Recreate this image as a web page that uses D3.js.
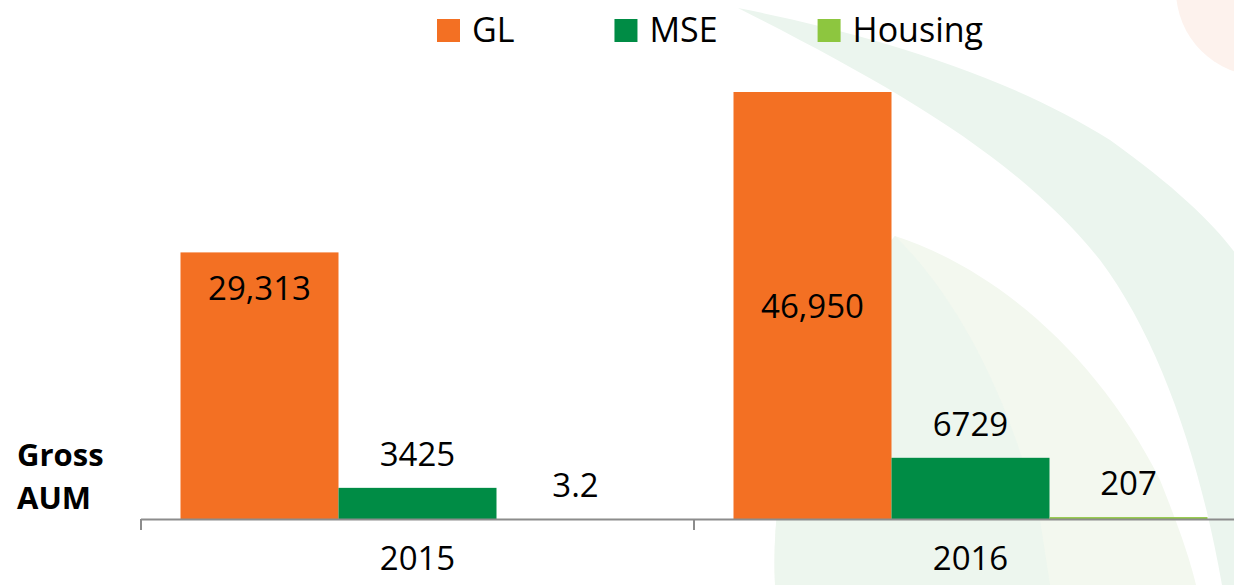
<!DOCTYPE html>
<html>
<head>
<meta charset="utf-8">
<script src="https://cdn.jsdelivr.net/npm/d3@7"></script>
<style>
  html, body { margin: 0; padding: 0; background: #fff; }
  svg { display: block; font-family: "Open Sans", "Noto Sans", sans-serif; }
</style>
</head>
<body>
<div id="chart"></div>
<script>
// data
var years = ["2015", "2016"];
var series = ["GL", "MSE", "Housing"];
var glValues = [29313, 46950];
var mseValues = [3425, 6729];
var housingValues = [3.2, 207];
var valueLabels = [["29,313", "3425", "3.2"], ["46,950", "6729", "207"]];

var colors = { GL: "#F37023", MSE: "#008C45", Housing: "#8DC63F" };

var w = 1234,
    h = 585;

var svg = d3.select("#chart").append("svg")
  .attr("width", w)
  .attr("height", h);

// faint leaf watermark in the background
var bg = svg.append("g").attr("class", "watermark");
bg.append("path")
  .attr("d", "M738,8 C850,30 1000,70 1110,140 C1180,190 1220,230 1240,260 L1240,585 L1222,585 C1200,460 1160,340 1100,260 C1020,160 900,90 738,8 Z")
  .attr("fill", "#ebf5ee");
bg.append("path")
  .attr("d", "M895,236 C1000,270 1100,360 1160,480 C1180,530 1190,560 1196,585 L775,585 C770,480 800,340 895,236 Z")
  .attr("fill", "#f3f8ef");
bg.append("path")
  .attr("d", "M895,236 C960,300 1010,400 1040,520 L1050,585 L775,585 C770,480 800,340 895,236 Z")
  .attr("fill", "#ebf5ee")
  .attr("opacity", 0.8);
bg.append("circle")
  .attr("cx", 1262)
  .attr("cy", -10)
  .attr("r", 86)
  .attr("fill", "#fdf2ed");

// scales
var x0 = d3.scaleBand()
  .domain(years)
  .range([141, 1247])
  .padding(0);

var x1 = d3.scaleBand()
  .domain(series)
  .range([0, x0.bandwidth()])
  .paddingInner(0)
  .paddingOuter(0.25);

var y = d3.scaleLinear()
  .domain([0, d3.max(glValues)])
  .range([519, 92]);

var rows = years.map(function (yr, i) {
  return [
    { year: yr, key: "GL", value: glValues[i], label: valueLabels[i][0] },
    { year: yr, key: "MSE", value: mseValues[i], label: valueLabels[i][1] },
    { year: yr, key: "Housing", value: housingValues[i], label: valueLabels[i][2] }
  ];
});

// bars
var groups = svg.selectAll("g.year")
  .data(rows)
  .enter()
  .append("g")
  .attr("class", "year")
  .attr("transform", function (d, i) { return "translate(" + x0(years[i]) + ",0)"; });

groups.selectAll("rect")
  .data(function (d) { return d; })
  .enter()
  .append("rect")
  .attr("x", function (d) { return x1(d.key); })
  .attr("y", function (d) { return y(d.value); })
  .attr("width", x1.bandwidth())
  .attr("height", function (d) { return y(0) - y(d.value); })
  .attr("fill", function (d) { return colors[d.key]; });

// value labels
groups.selectAll("text.val")
  .data(function (d) { return d; })
  .enter()
  .append("text")
  .attr("class", "val")
  .attr("x", function (d) { return x1(d.key) + x1.bandwidth() / 2; })
  .attr("y", function (d) {
    if (d.key === "GL") {
      // 2015 sits near the top of the bar, 2016 in the middle
      return d.year === "2015" ? y(d.value) + 48 : (y(d.value) + y(0)) / 2 + 12;
    }
    return y(d.value) - 22;
  })
  .attr("text-anchor", "middle")
  .attr("font-size", "33px")
  .attr("fill", "#000")
  .text(function (d) { return d.label; });

// x axis
var axis = svg.append("g")
  .attr("transform", "translate(0,519)")
  .call(d3.axisBottom(x0).tickSize(0).tickPadding(26));
axis.select(".domain")
  .attr("d", "M141,0.5H1247")
  .attr("stroke", "#8c8c8c")
  .attr("stroke-width", 2);
axis.selectAll(".tick text")
  .attr("font-size", "33px")
  .attr("font-family", "Open Sans, sans-serif")
  .attr("fill", "#000")
  .attr("dy", "0.75em");

// category boundary ticks
svg.append("g").selectAll("line")
  .data(years.concat(["end"]))
  .enter()
  .append("line")
  .attr("x1", function (d, i) { return 141 + i * x0.bandwidth(); })
  .attr("x2", function (d, i) { return 141 + i * x0.bandwidth(); })
  .attr("y1", 519)
  .attr("y2", 530)
  .attr("stroke", "#8c8c8c")
  .attr("stroke-width", 2);

// axis title
var title = svg.append("text")
  .attr("x", 17)
  .attr("font-size", "31px")
  .attr("font-weight", "bold")
  .attr("fill", "#000");
title.append("tspan").attr("x", 17).attr("y", 466).text("Gross");
title.append("tspan").attr("x", 17).attr("y", 509).text("AUM");

// legend
var legend = svg.append("g").attr("class", "legend");
var lx = 437;
series.forEach(function (s) {
  legend.append("rect")
    .attr("x", lx)
    .attr("y", 19)
    .attr("width", 23)
    .attr("height", 23)
    .attr("fill", colors[s]);
  var t = legend.append("text")
    .attr("x", lx + 35)
    .attr("y", 42)
    .attr("font-size", "34px")
    .attr("fill", "#000")
    .text(s);
  lx = lx + 35 + t.node().getComputedTextLength() + 100;
});
</script>
</body>
</html>
